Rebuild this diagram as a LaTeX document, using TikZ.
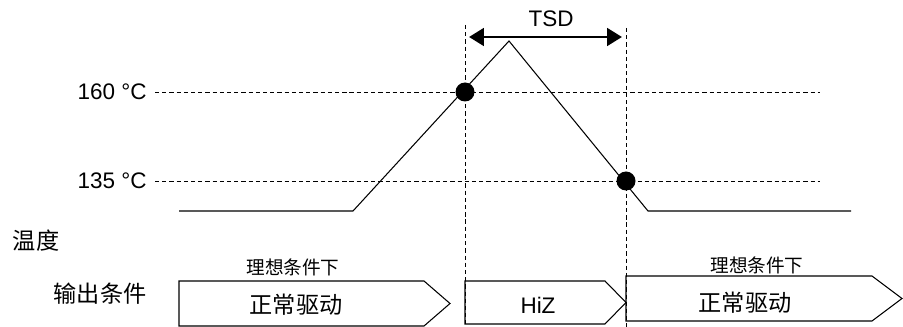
\documentclass[tikz,border=0pt]{standalone}
\usepackage{fontspec}
\setmainfont{Liberation Sans}
\newfontfamily\cjk{Noto Sans CJK SC}
\usetikzlibrary{arrows.meta,positioning}
\tikzset{
  guide/.style={
    line width=0.5pt,
    dash pattern=on 2.4pt off 1.7pt
  },
  curve/.style={
    line width=0.6pt,
    line join=miter
  },
  hit/.style={
    shape = circle,
    fill,
    inner sep = 0pt,
    minimum size = 0.38cm
  },
  templabel/.style={
    font = \fontsize{12.8}{15}\selectfont,
    anchor = east,
    inner sep = 0pt
  },
  biglabel/.style={
    font = \cjk\fontsize{13.2}{15}\selectfont,
    inner sep = 0pt
  },
  smalllabel/.style={
    font = \cjk\fontsize{10.6}{12}\selectfont,
    inner sep = 0pt
  },
  state/.style={
    line width=0.6pt
  },
}
\begin{document}
\begin{tikzpicture}[x=0.02cm,y=-0.02cm]
    \useasboundingbox (0,0) rectangle (903,327);

    \node[templabel] (t160) at (147,92) {160 °C};
    \node[templabel] (t135) at (147,181) {135 °C};
    \coordinate (e160) at (820,92);
    \coordinate (e135) at (820,181);
    \draw[guide] ([xshift=0.16cm]t160.east) -- (e160);
    \draw[guide] ([xshift=0.16cm]t135.east) -- (e135);

    \coordinate (vtop1) at (465,25);
    \coordinate (vbot1) at (465,324);
    \coordinate (vtop2) at (626,28);
    \coordinate (vbot2) at (626,327);
    \draw[guide] (vtop1) -- (vbot1);
    \draw[guide] (vtop2) -- (vbot2);

    \coordinate (c0) at (179,211);
    \coordinate (c1) at (353,211);
    \coordinate (peak) at (509,41);
    \coordinate (c2) at (648,211);
    \coordinate (c3) at (851,211);
    \draw[curve] (c0) -- (c1) -- (peak) -- (c2) -- (c3);

    \node[hit] (on) at (465,92) {};
    \node[hit] (off) at (626,181) {};

    \coordinate (tsdl) at (469,37);
    \coordinate (tsdr) at (622,37);
    \draw[line width=1.7pt,{Triangle[length=8.5pt,width=10pt]}-{Triangle[length=8.5pt,width=10pt]}] (tsdl) -- (tsdr);
    \node[font=\fontsize{12.8}{15}\selectfont,inner sep=0pt] (tsd) at (551,18.5) {TSD};

    \node[biglabel] (temp) at (36,241) {温度};
    \node[biglabel] (out) at (100,294) {输出条件};

    \draw[state] (179,281) --++ (245,0) --++ (26,22.5) --++ (-26,22.5) --++ (-245,0) -- cycle;
    \draw[state] (465,281) --++ (140,0) --++ (21,21.5) --++ (-21,21.5) --++ (-140,0) -- cycle;
    \draw[state] (626,276) --++ (246,0) --++ (30,22.5) --++ (-30,22.5) --++ (-246,0) -- cycle;

    \node[smalllabel] (ideal1) at (293,267) {理想条件下};
    \node[biglabel] (drive1) at (296,305) {正常驱动};
    \node[font=\fontsize{12.8}{15}\selectfont,inner sep=0pt] (hiz) at (538,305) {HiZ};
    \node[smalllabel] (ideal2) at (757,265) {理想条件下};
    \node[biglabel] (drive2) at (745,303) {正常驱动};
\end{tikzpicture}
\end{document}
